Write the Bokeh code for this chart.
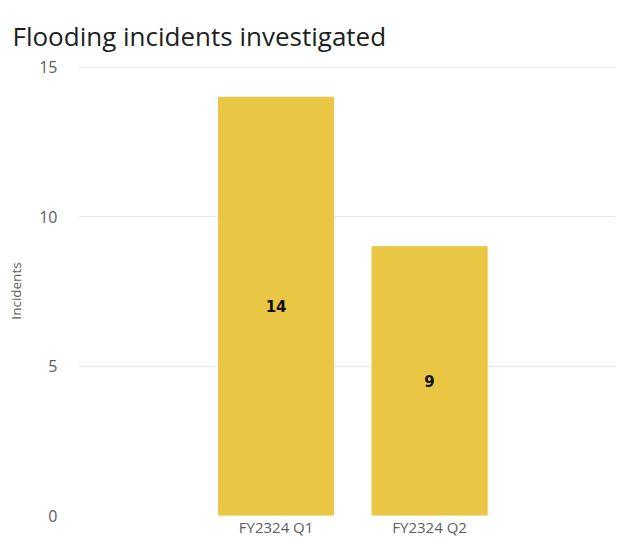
from bokeh.plotting import figure
from bokeh.models import ColumnDataSource, Range1d, FixedTicker, Title
from bokeh.core.properties import value
from bokeh.embed import file_html
from bokeh.resources import INLINE

title_text = "Flooding incidents investigated"
categories = ["FY2324 Q1", "FY2324 Q2"]
incidents = [14, 9]
y_ticks = [0, 5, 10, 15]

xs = [i + 0.5 for i in range(len(categories))]
source = ColumnDataSource(dict(
    x=xs,
    top=incidents,
    mid=[v / 2 for v in incidents],
    label=[str(v) for v in incidents],
))

p = figure(width=629, height=539, output_backend="svg", toolbar_location=None,
           x_range=Range1d(-0.787, 2.711), y_range=Range1d(0, 15.03),
           min_border_left=78, min_border_right=14, min_border_top=66,
           min_border_bottom=24, outline_line_color=None)

p.title = Title(text=title_text, text_font="Open Sans",
                text_font_size="26px", text_font_style="normal",
                text_color="#201F1E", offset=-66, standoff=21,
                vertical_align="top", text_line_height=1.0)

p.vbar(x="x", top="top", width=0.75, source=source, color="#EAC645")
p.text(x="x", y="mid", text="label", source=source, text_align="center",
       text_baseline="middle", text_font=value("DejaVu Sans"),
       text_font_style="bold", text_font_size="15px", text_color="#111111")

p.xaxis.ticker = FixedTicker(ticks=xs)
p.xaxis.major_label_overrides = {x: c for x, c in zip(xs, categories)}
p.xaxis.axis_line_color = None
p.xaxis.major_tick_line_color = None
p.xaxis.minor_tick_line_color = None
p.xaxis.major_label_text_font = "Open Sans"
p.xaxis.major_label_text_font_size = "15px"
p.xaxis.major_label_text_color = "#605E5C"
p.xaxis.major_label_standoff = -5

p.yaxis.ticker = FixedTicker(ticks=y_ticks)
p.yaxis.axis_line_color = None
p.yaxis.major_tick_line_color = None
p.yaxis.minor_tick_line_color = None
p.yaxis.major_label_text_font = "Open Sans"
p.yaxis.major_label_text_font_size = "16px"
p.yaxis.major_label_text_color = "#605E5C"
p.yaxis.major_label_standoff = 15
p.yaxis.axis_label = "Incidents"
p.yaxis.axis_label_text_font = "Open Sans"
p.yaxis.axis_label_text_font_size = "13.5px"
p.yaxis.axis_label_text_font_style = "normal"
p.yaxis.axis_label_text_color = "#605E5C"
p.yaxis.axis_label_standoff = 11

p.xgrid.grid_line_color = None
p.ygrid.grid_line_color = "#E8E8E8"
p.ygrid.grid_line_width = 1

open("out.html", "w").write(file_html(p, INLINE))
